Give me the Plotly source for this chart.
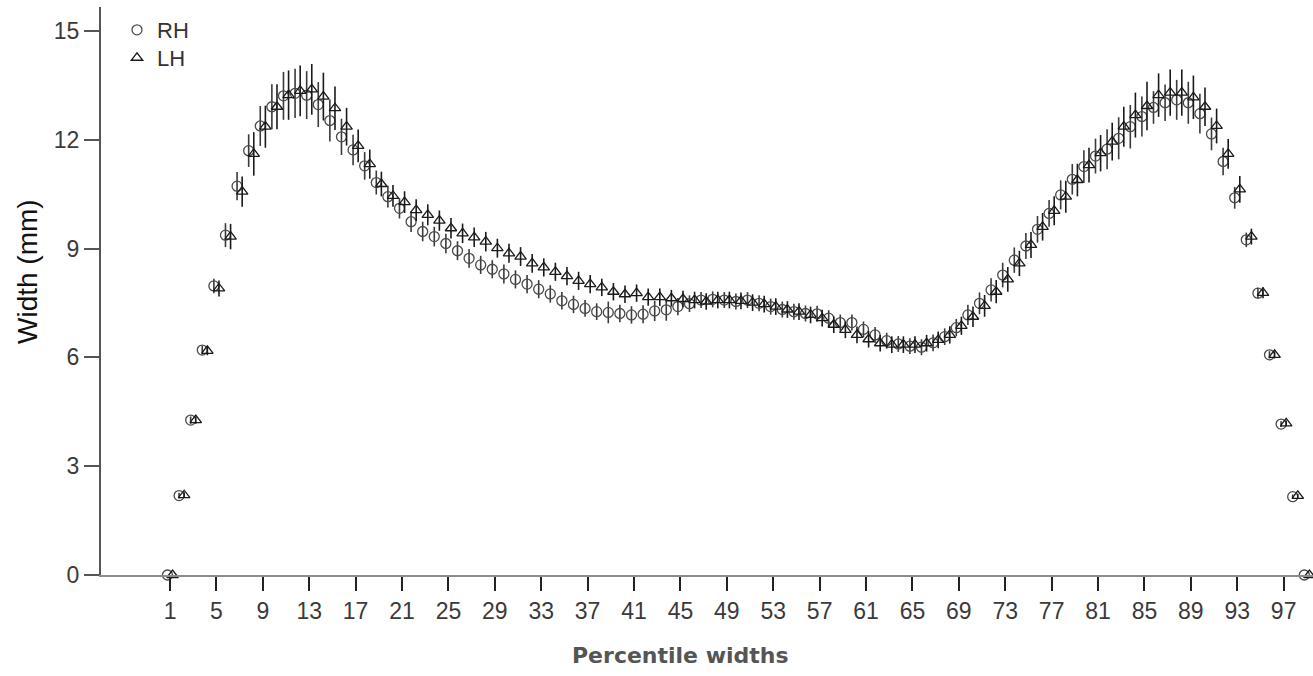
import plotly.graph_objects as go

percentiles = list(range(1, 100))

rh_width = [0, 2.19, 4.27, 6.20, 7.97, 9.37, 10.72, 11.70, 12.38, 12.91,
            13.21, 13.28, 13.23, 12.97, 12.53, 12.08, 11.72, 11.28, 10.82, 10.43,
            10.11, 9.74, 9.47, 9.33, 9.14, 8.94, 8.73, 8.55, 8.43, 8.30,
            8.15, 8.02, 7.88, 7.75, 7.56, 7.46, 7.35, 7.26, 7.24, 7.21,
            7.17, 7.19, 7.28, 7.31, 7.40, 7.48, 7.58, 7.60, 7.58, 7.54,
            7.58, 7.49, 7.40, 7.32, 7.26, 7.21, 7.20, 7.08, 6.96, 6.96,
            6.77, 6.62, 6.46, 6.37, 6.31, 6.28, 6.40, 6.57, 6.82, 7.17,
            7.49, 7.86, 8.27, 8.68, 9.07, 9.53, 9.97, 10.48, 10.91, 11.26,
            11.55, 11.74, 12.04, 12.36, 12.64, 12.89, 13.02, 13.10, 13.02, 12.72,
            12.16, 11.40, 10.40, 9.24, 7.77, 6.07, 4.16, 2.16, 0]

lh_width = [0, 2.20, 4.27, 6.18, 7.90, 9.33, 10.57, 11.61, 12.36, 12.91,
            13.23, 13.35, 13.39, 13.19, 12.87, 12.36, 11.83, 11.33, 10.78, 10.45,
            10.28, 10.06, 9.93, 9.77, 9.56, 9.42, 9.31, 9.19, 9.01, 8.87,
            8.78, 8.59, 8.48, 8.36, 8.24, 8.11, 8.02, 7.93, 7.81, 7.74,
            7.77, 7.66, 7.66, 7.63, 7.61, 7.58, 7.54, 7.58, 7.58, 7.56,
            7.51, 7.47, 7.40, 7.32, 7.26, 7.17, 7.08, 6.90, 6.76, 6.62,
            6.50, 6.39, 6.35, 6.35, 6.35, 6.39, 6.48, 6.62, 6.87, 7.12,
            7.42, 7.81, 8.15, 8.59, 9.10, 9.60, 10.04, 10.43, 10.89, 11.30,
            11.63, 11.95, 12.36, 12.68, 12.93, 13.23, 13.30, 13.30, 13.17, 12.91,
            12.38, 11.61, 10.63, 9.33, 7.78, 6.07, 4.18, 2.18, 0]

rh_err = [0, 0.08, 0.10, 0.12, 0.20, 0.33, 0.39, 0.45, 0.55, 0.62,
          0.66, 0.68, 0.66, 0.62, 0.58, 0.50, 0.42, 0.38, 0.33, 0.30,
          0.28, 0.28, 0.27, 0.27, 0.27, 0.26, 0.26, 0.25, 0.25, 0.26,
          0.25, 0.25, 0.25, 0.24, 0.24, 0.24, 0.23, 0.23, 0.30, 0.24,
          0.24, 0.25, 0.28, 0.30, 0.24, 0.23, 0.22, 0.22, 0.22, 0.22,
          0.22, 0.22, 0.22, 0.22, 0.22, 0.22, 0.22, 0.22, 0.22, 0.22,
          0.22, 0.22, 0.22, 0.22, 0.22, 0.22, 0.23, 0.23, 0.24, 0.28,
          0.30, 0.32, 0.34, 0.35, 0.36, 0.37, 0.37, 0.40, 0.42, 0.45,
          0.48, 0.55, 0.58, 0.60, 0.55, 0.45, 0.50, 0.55, 0.58, 0.55,
          0.45, 0.38, 0.30, 0.20, 0.15, 0.10, 0.08, 0.06, 0]

lh_err = [0, 0.08, 0.10, 0.12, 0.22, 0.35, 0.42, 0.60, 0.58, 0.62,
          0.68, 0.70, 0.70, 0.66, 0.60, 0.52, 0.45, 0.40, 0.34, 0.30,
          0.30, 0.30, 0.29, 0.28, 0.28, 0.27, 0.27, 0.27, 0.26, 0.26,
          0.26, 0.26, 0.25, 0.25, 0.25, 0.25, 0.25, 0.24, 0.24, 0.24,
          0.24, 0.24, 0.24, 0.23, 0.23, 0.23, 0.23, 0.23, 0.23, 0.23,
          0.23, 0.23, 0.23, 0.23, 0.23, 0.23, 0.23, 0.23, 0.23, 0.23,
          0.23, 0.23, 0.23, 0.23, 0.23, 0.23, 0.23, 0.24, 0.25, 0.28,
          0.30, 0.32, 0.34, 0.35, 0.36, 0.38, 0.40, 0.44, 0.45, 0.48,
          0.50, 0.52, 0.55, 0.62, 0.67, 0.60, 0.64, 0.64, 0.60, 0.53,
          0.48, 0.41, 0.37, 0.22, 0.15, 0.10, 0.08, 0.06, 0]

x_ticks = list(range(1, 98, 4))
y_ticks = [0, 3, 6, 9, 12, 15]

dodge = 0.22
rh_x = [p - dodge for p in percentiles]
lh_x = [p + dodge for p in percentiles]

FONT = "Liberation Sans, Arial, sans-serif"

fig = go.Figure()
fig.add_trace(go.Scatter(
    x=rh_x, y=rh_width, mode="markers", name="RH", legend="legend",
    marker=dict(symbol="circle-open", size=10, color="#4a4a4a", line=dict(width=1.3, color="#4a4a4a")),
    error_y=dict(type="data", array=rh_err, visible=True, color="#3a3a3a", thickness=1.6, width=0),
    cliponaxis=False,
))
fig.add_trace(go.Scatter(
    x=lh_x, y=lh_width, mode="markers", name="LH", legend="legend2",
    marker=dict(symbol="triangle-up-open", size=10, color="#1a1a1a", line=dict(width=1.3, color="#1a1a1a")),
    error_y=dict(type="data", array=lh_err, visible=True, color="#1a1a1a", thickness=1.6, width=0),
    cliponaxis=False,
))

legend_common = dict(xanchor="left", yanchor="middle", bgcolor="rgba(0,0,0,0)",
                     font=dict(family=FONT, size=22, color="#333333"))

fig.update_layout(
    width=1313, height=676,
    margin=dict(l=101, r=0, t=7, b=101, autoexpand=False),
    paper_bgcolor="white", plot_bgcolor="white",
    font=dict(family=FONT, color="#333333", size=16),
    showlegend=True,
    legend=dict(x=0.0132, y=0.9595, **legend_common),
    legend2=dict(x=0.0132, y=0.9103, **legend_common),
    xaxis=dict(
        range=[-4.95, 99.53], tickmode="array", tickvals=x_ticks,
        ticktext=[str(t) for t in x_ticks], automargin=False,
        showgrid=False, zeroline=False, showline=True, linecolor="#8c8c8c", linewidth=2,
        ticks="outside", ticklen=14, tickwidth=1.5, tickcolor="#222222",
        tickfont=dict(family=FONT, size=23, color="#3a3a3a"),
    ),
    yaxis=dict(
        range=[0, 15.66], tickmode="array", tickvals=y_ticks, automargin=False,
        showgrid=False, zeroline=False, showline=True, linecolor="#555555", linewidth=2,
        ticks="outside", ticklen=15, tickwidth=1.5, tickcolor="#555555",
        tickfont=dict(family=FONT, size=23, color="#3a3a3a"),
    ),
    annotations=[
        dict(text="<b>Percentile widths</b>", xref="paper", yref="paper",
             x=(680 - 101) / 1212, y=-(655 - 575) / 568, xanchor="center", yanchor="middle",
             showarrow=False, font=dict(family="DejaVu Sans, sans-serif", size=22, color="#555555")),
        dict(text="Width (mm)", xref="paper", yref="paper", textangle=-90,
             x=-(101 - 27) / 1212, y=1 - (272 - 7) / 568, xanchor="center", yanchor="middle",
             showarrow=False, font=dict(family=FONT, size=28, color="#111111")),
    ],
)

fig.write_html("out.html", config={"displayModeBar": False},
               post_script="document.body.style.margin='0';")
